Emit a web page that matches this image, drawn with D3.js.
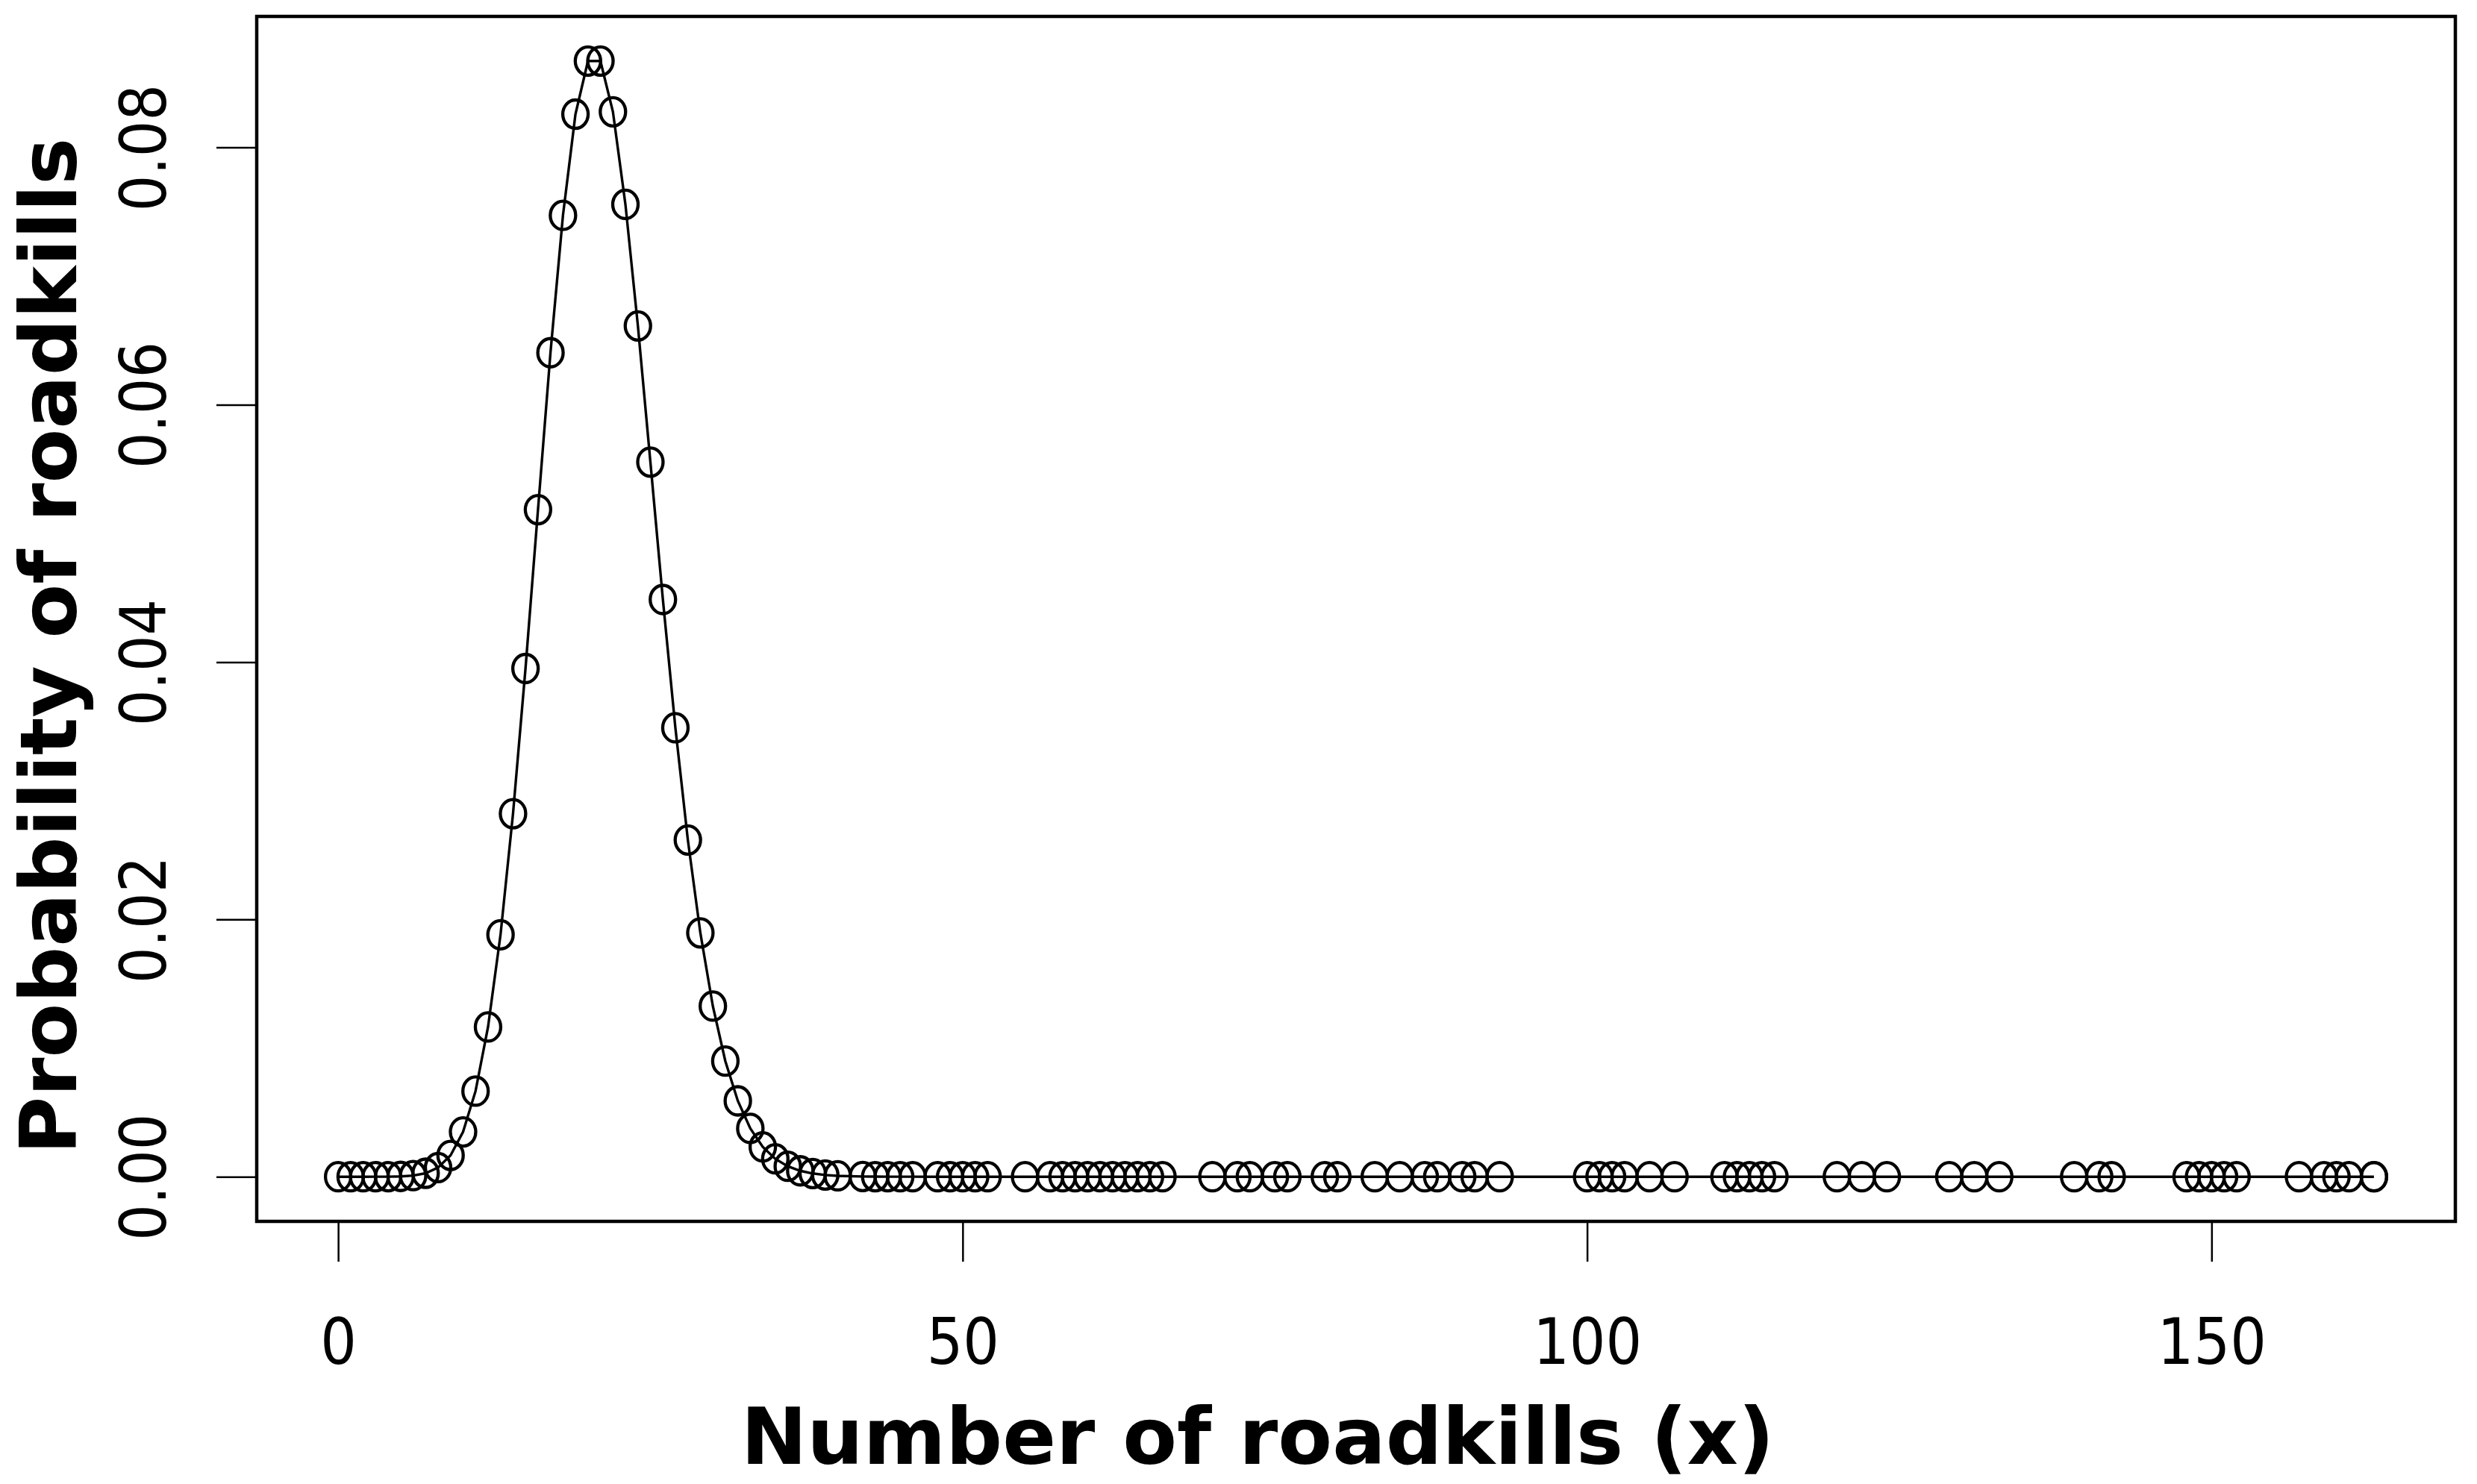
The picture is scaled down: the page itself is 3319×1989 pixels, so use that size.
<!DOCTYPE html>
<html>
<head>
<meta charset="utf-8">
<script src="https://cdn.jsdelivr.net/npm/d3@7"></script>
<style>
  body { margin: 0; background: #fff; }
  svg { display: block; background: #fff; }
</style>
</head>
<body>
<svg id="chart"></svg>
<script>
// number of roadkills (x), in the order they are plotted
const roadkills = [
  0, 1, 2, 3, 4, 5, 6, 7, 8, 9, 10,
  11, 12, 13, 14, 15, 16, 17, 18, 19, 20,
  21, 22, 23, 24, 25, 26, 27, 28, 29, 30,
  31, 32, 33, 34, 35, 36, 37, 38, 39, 40,
  42, 43, 44, 45, 46, 48, 49, 50, 51, 52,
  55, 57, 58, 59, 60, 61, 62, 63, 64, 65,
  66, 70, 72, 73, 75, 76, 79, 80, 83, 85,
  87, 88, 90, 91, 93, 100, 101, 102, 103, 105,
  107, 111, 112, 113, 114, 115, 120, 122, 124, 129,
  131, 133, 139, 141, 142, 148, 149, 150, 151, 152,
  157, 159, 160, 161, 163, 163
];

// probability of roadkills for each x above
const probability = [
  0.0000000008, 0.0000000159, 0.0000001672, 0.0000011704, 0.0000061445,
  0.0000258070, 0.0000903230, 0.0002709700, 0.0007113000, 0.0016597000,
  0.0034854, 0.0066539, 0.0116444, 0.0188102, 0.0282153,
  0.0395014, 0.0518456, 0.0640446, 0.0747187, 0.0825838,
  0.0867130, 0.0867130, 0.0827715, 0.0755740, 0.0661272,
  0.0555469, 0.0448648, 0.0348948, 0.0261711, 0.0189515,
  0.0132661, 0.0089866, 0.0058975, 0.0037530, 0.0023181,
  0.0013909, 0.0008114, 0.0004605, 0.0002545, 0.0001370,
  0.0000719,
  0.0000184, 0.0000090, 0.0000043, 0.0000020, 0.0000009,
  0, 0, 0, 0, 0, 0, 0, 0, 0, 0,
  0, 0, 0, 0, 0, 0, 0, 0, 0, 0,
  0, 0, 0, 0, 0, 0, 0, 0, 0, 0,
  0, 0, 0, 0, 0, 0, 0, 0, 0, 0,
  0, 0, 0, 0, 0, 0, 0, 0, 0, 0,
  0, 0, 0, 0, 0, 0, 0, 0, 0, 0,
  0
];

const xTicks = [0, 50, 100, 150];
const yTicks = [0, 0.02, 0.04, 0.06, 0.08];
const xTitle = "Number of roadkills (x)";
const yTitle = "Probability of roadkills";

const width = 3319;
const height = 1989;
const plot = { left: 344, right: 3290, top: 22, bottom: 1637 };

const tickFont = `"Liberation Sans Narrow", "DejaVu Sans Condensed", "Liberation Sans", sans-serif`;
const titleFont = `"DejaVu Sans", sans-serif`;

const points = roadkills.map((x, i) => ({ x: x, p: probability[i] }));

// R pads the data range by 4% on each side
const pad = ([lo, hi]) => [lo - 0.04 * (hi - lo), hi + 0.04 * (hi - lo)];

//make scales
const xScale = d3
  .scaleLinear()
  .domain(pad(d3.extent(roadkills)))
  .range([plot.left, plot.right]);
const yScale = d3
  .scaleLinear()
  .domain(pad(d3.extent(probability)))
  .range([plot.bottom, plot.top]);

const svg = d3
  .select("#chart")
  .attr("width", width)
  .attr("height", height);

//axes
const xAxis = g => {
  g.attr("transform", `translate(0, ${plot.bottom})`).call(
    d3
      .axisBottom(xScale)
      .tickValues(xTicks)
      .tickSize(54)
      .tickFormat(d3.format("d"))
  );
  g.select(".domain").remove();
  g.selectAll(".tick line").attr("stroke", "#000").attr("stroke-width", 2.5);
  g.selectAll(".tick text")
    .attr("y", 191)
    .attr("dy", null)
    .attr("fill", "#000")
    .style("font-family", tickFont)
    .style("font-size", "85px");
  return g;
};

const yAxis = g => {
  g.attr("transform", `translate(${plot.left}, 0)`).call(
    d3
      .axisLeft(yScale)
      .tickValues(yTicks)
      .tickSize(54)
      .tickFormat(d3.format(".2f"))
  );
  g.select(".domain").remove();
  g.selectAll(".tick line").attr("stroke", "#000").attr("stroke-width", 2.5);
  // labels run parallel to the axis like R's default
  g.selectAll(".tick text")
    .attr("x", null)
    .attr("dy", null)
    .attr("text-anchor", "middle")
    .attr("transform", "translate(-122, 0) rotate(-90)")
    .attr("fill", "#000")
    .style("font-family", tickFont)
    .style("font-size", "85px");
  return g;
};

svg.append("g").call(xAxis);
svg.append("g").call(yAxis);

//line through the points
const valueLine = d3
  .line()
  .x(d => xScale(d.x))
  .y(d => yScale(d.p));

svg
  .append("path")
  .datum(points)
  .attr("d", valueLine)
  .attr("fill", "none")
  .attr("stroke", "#000")
  .attr("stroke-width", 3.4);

//open circles (a little taller than wide, as in the picture)
svg
  .append("g")
  .selectAll("ellipse")
  .data(points)
  .enter()
  .append("ellipse")
  .attr("cx", d => xScale(d.x))
  .attr("cy", d => yScale(d.p))
  .attr("rx", 17)
  .attr("ry", 19)
  .attr("fill", "none")
  .attr("stroke", "#000")
  .attr("stroke-width", 4.3);

//plot box
svg
  .append("rect")
  .attr("x", plot.left)
  .attr("y", plot.top)
  .attr("width", plot.right - plot.left)
  .attr("height", plot.bottom - plot.top)
  .attr("fill", "none")
  .attr("stroke", "#000")
  .attr("stroke-width", 4.5);

//axis titles
svg
  .append("text")
  .attr("x", 1685)
  .attr("y", 1962)
  .attr("text-anchor", "middle")
  .style("font-family", titleFont)
  .style("font-weight", "bold")
  .style("font-size", "106px")
  .text(xTitle);

svg
  .append("text")
  .attr("transform", "translate(102, 866) rotate(-90)")
  .attr("text-anchor", "middle")
  .style("font-family", titleFont)
  .style("font-weight", "bold")
  .style("font-size", "106px")
  .text(yTitle);
</script>
</body>
</html>
